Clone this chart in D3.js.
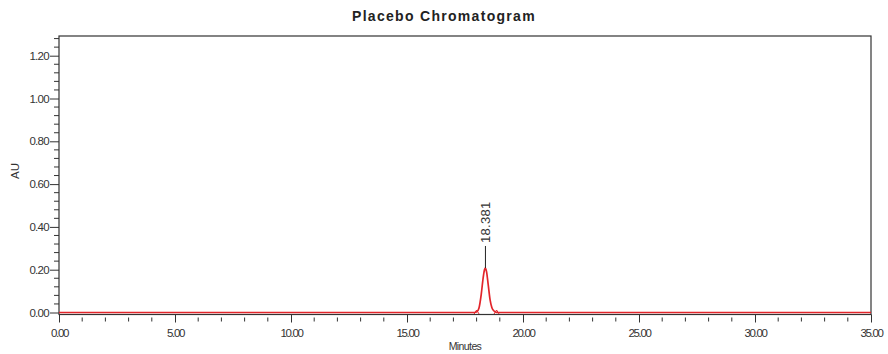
<!DOCTYPE html>
<html>
<head>
<meta charset="utf-8">
<script src="https://cdn.jsdelivr.net/npm/d3@7"></script>
<style>
  html, body { margin: 0; padding: 0; background: #fff; }
  svg { display: block; }
  text { font-family: "Liberation Sans", Arial, sans-serif; fill: #333; }
</style>
</head>
<body>
<svg id="chart" width="888" height="354"></svg>
<script>
// Chromatogram trace (minutes vs absorbance units)
const traceMinutes = [0, 17.9, 18.0, 18.1, 18.2, 18.28, 18.34, 18.381, 18.43, 18.5, 18.58, 18.66, 18.75, 18.86, 19.0, 35];
const traceAU      = [0, 0,    0.002, 0.02, 0.085, 0.16, 0.2, 0.208, 0.19, 0.13, 0.06, 0.022, 0.007, 0.001, 0, 0];

// Integrated peak: retention time, apex height and integration limits
const peakRT = [18.381];
const peakHeight = [0.208];
const peakStart = [18.0];
const peakEnd = [18.86];

// Axis ticks
const xMajorTicks = [0, 5, 10, 15, 20, 25, 30, 35];
const yMajorTicks = [0, 0.2, 0.4, 0.6, 0.8, 1.0, 1.2];
const xMinorTicks = d3.range(0, 35.001, 1).filter(v => v % 5 !== 0);
const yMinorTicks = d3.range(0, 1.2801, 0.04).filter(v => Math.abs(v / 0.2 - Math.round(v / 0.2)) > 1e-6);

const svg = d3.select("#chart");

const plot = { left: 59, right: 871, top: 36, bottom: 314.5 };

const x = d3.scaleLinear().domain([0, 35]).range([plot.left, plot.right]);
const y = d3.scaleLinear().domain([0, 1.2]).range([312.5, 55.7]);

// Title
svg.append("text")
  .attr("x", 444).attr("y", 21)
  .attr("text-anchor", "middle")
  .style("font-size", "14px").style("font-weight", "bold")
  .style("letter-spacing", "1.3px")
  .style("fill", "#222")
  .text("Placebo Chromatogram");

// Frame
svg.append("rect")
  .attr("x", plot.left).attr("y", plot.top)
  .attr("width", plot.right - plot.left).attr("height", plot.bottom - plot.top)
  .attr("fill", "none").attr("stroke", "#333").attr("stroke-width", 1.2);

// Y axis
const yAxis = d3.axisLeft(y).tickValues(yMajorTicks).tickFormat(d3.format(".2f")).tickSize(9).tickPadding(1);
const gy = svg.append("g").attr("transform", `translate(${plot.left},0)`).call(yAxis);
gy.select(".domain").remove();
gy.selectAll(".tick line").attr("stroke", "#333");
gy.selectAll(".tick text").style("font-size", "11.5px").style("letter-spacing", "-0.7px").style("fill", "#333");

svg.append("g").selectAll("line").data(yMinorTicks).join("line")
  .attr("x1", plot.left - 5).attr("x2", plot.left)
  .attr("y1", d => y(d)).attr("y2", d => y(d))
  .attr("stroke", "#333");

// X axis
const xAxis = d3.axisBottom(x).tickValues(xMajorTicks).tickFormat(d3.format(".2f")).tickSize(8).tickPadding(6);
const gx = svg.append("g").attr("transform", `translate(0,${plot.bottom})`).call(xAxis);
gx.select(".domain").remove();
gx.selectAll(".tick line").attr("stroke", "#333");
gx.selectAll(".tick text").style("font-size", "11.5px").style("letter-spacing", "-1.4px").style("fill", "#333");

svg.append("g").selectAll("line").data(xMinorTicks).join("line")
  .attr("x1", d => x(d)).attr("x2", d => x(d))
  .attr("y1", plot.bottom + 3).attr("y2", plot.bottom + 7)
  .attr("stroke", "#333");

// Axis titles
svg.append("text")
  .attr("transform", "translate(19,171) rotate(-90)")
  .attr("text-anchor", "middle")
  .style("font-size", "11.5px")
  .text("AU");

svg.append("text")
  .attr("x", 465).attr("y", 350)
  .attr("text-anchor", "middle")
  .style("font-size", "10.5px").style("letter-spacing", "-0.6px")
  .text("Minutes");

// Trace
const line = d3.line().x((d, i) => x(traceMinutes[i])).y(d => y(d)).curve(d3.curveMonotoneX);
svg.append("path")
  .datum(traceAU)
  .attr("d", line)
  .attr("fill", "none")
  .attr("stroke", "#e2252b")
  .attr("stroke-width", 1.7);

// Integration limit markers
svg.append("g").selectAll("path").data(peakStart.concat(peakEnd)).join("path")
  .attr("d", d => `M${x(d) - 2.5},${y(0) + 1.5} L${x(d)},${y(0) - 2.5} L${x(d) + 2.5},${y(0) + 1.5}`)
  .attr("fill", "none").attr("stroke", "#e2252b").attr("stroke-width", 1);

// Peak label
peakRT.forEach((rt, i) => {
  const px = x(rt);
  const py = y(peakHeight[i]);
  svg.append("line")
    .attr("x1", px).attr("x2", px)
    .attr("y1", py).attr("y2", py - 22)
    .attr("stroke", "#222").attr("stroke-width", 1);
  svg.append("text")
    .attr("transform", `translate(${px + 4.5},${py - 25}) rotate(-90)`)
    .attr("text-anchor", "start")
    .style("font-size", "13px").style("letter-spacing", "0.3px")
    .text(d3.format(".3f")(rt));
});
</script>
</body>
</html>
